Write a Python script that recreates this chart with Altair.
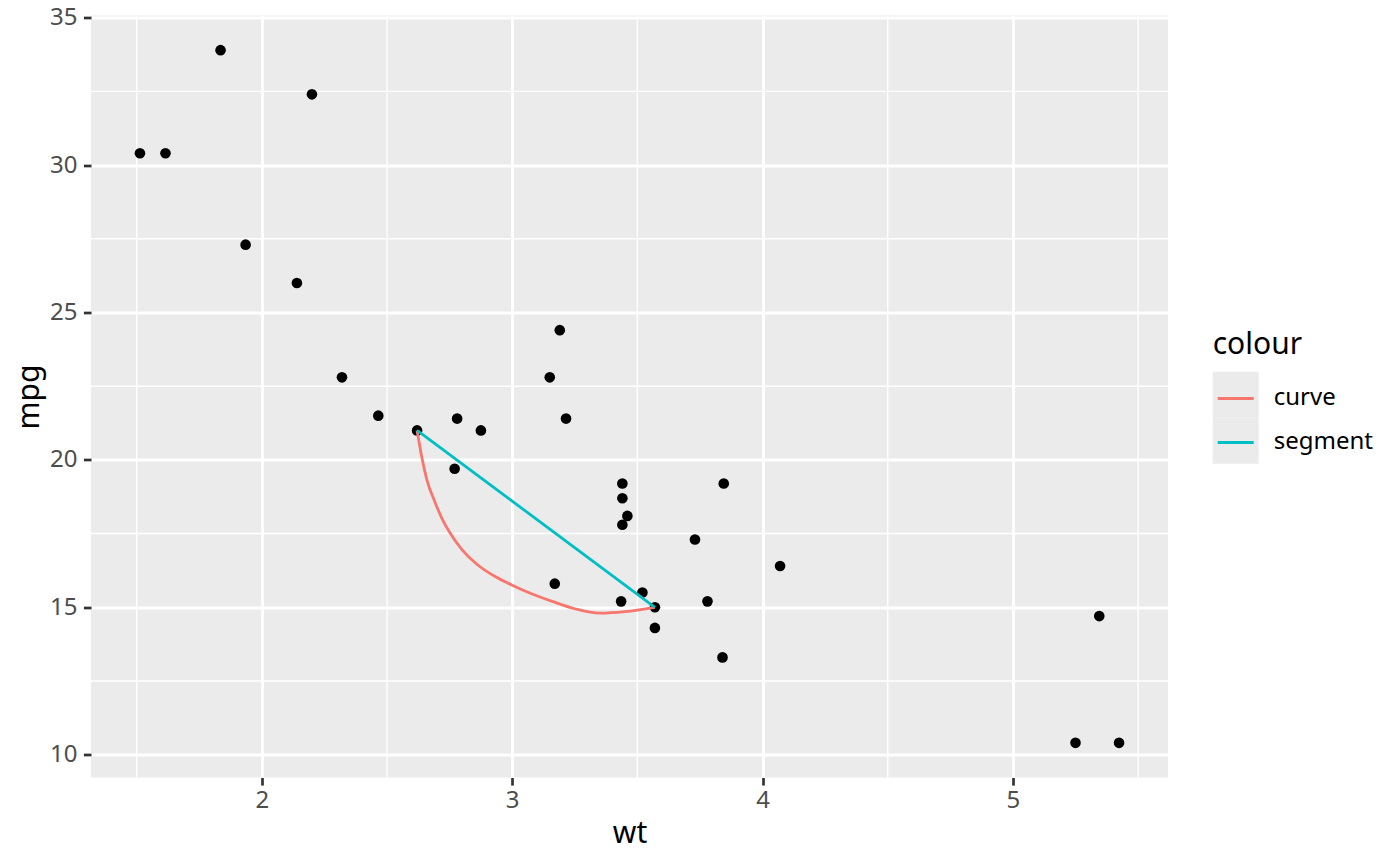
import altair as alt
import pandas as pd

# mtcars: weight (1000 lbs) and miles per gallon
wt = [2.620, 2.875, 2.320, 3.215, 3.440, 3.460, 3.570, 3.190, 3.150, 3.440, 3.440,
      4.070, 3.730, 3.780, 5.250, 5.424, 5.345, 2.200, 1.615, 1.835, 2.465, 3.520,
      3.435, 3.840, 3.845, 1.935, 2.140, 1.513, 3.170, 2.770, 3.570, 2.780]
mpg = [21.0, 21.0, 22.8, 21.4, 18.7, 18.1, 14.3, 24.4, 22.8, 19.2, 17.8,
       16.4, 17.3, 15.2, 10.4, 10.4, 14.7, 32.4, 30.4, 33.9, 21.5, 15.5,
       15.2, 13.3, 19.2, 27.3, 26.0, 30.4, 15.8, 19.7, 15.0, 21.4]

# curve and straight segment
curve_wt = [2.620, 2.628, 2.641, 2.660, 2.690, 2.720, 2.753, 2.800, 2.860, 2.930,
            3.000, 3.080, 3.160, 3.250, 3.350, 3.450, 3.570]
curve_mpg = [21.0, 20.6, 20.0, 19.3, 18.6, 18.0, 17.5, 16.95, 16.45, 16.05,
             15.75, 15.45, 15.2, 14.95, 14.80, 14.85, 15.0]
seg_wt = [2.620, 3.570]
seg_mpg = [21.0, 15.0]

series = ["curve", "segment"]
colours = ["#F8766D", "#00BFC4"]
key_bg = ["k1", "k2"]  # keys for the grey legend-key background

x_major = [2, 3, 4, 5]
x_minor = [1.5, 2.5, 3.5, 4.5, 5.5]
y_major = [10, 15, 20, 25, 30, 35]
y_minor = [12.5, 17.5, 22.5, 27.5, 32.5]

pts = pd.DataFrame({"wt": wt, "mpg": mpg})
lines = pd.DataFrame({
    "wt": curve_wt + seg_wt,
    "mpg": curve_mpg + seg_mpg,
    "colour": ["curve"] * len(curve_wt) + ["segment"] * len(seg_wt),
    "i": list(range(len(curve_wt))) + list(range(len(seg_wt))),
})
dummy = pd.DataFrame({"wt": [3.0, 3.0], "mpg": [20.0, 20.0], "k": key_bg})
xminor_df = pd.DataFrame({"v": x_minor})
yminor_df = pd.DataFrame({"v": y_minor})

FONT = "Noto Sans"
xscale = alt.Scale(domain=[1.3175, 5.6195], nice=False, zero=False)
yscale = alt.Scale(domain=[9.225, 35.075], nice=False, zero=False)

axis_common = dict(
    grid=True, gridColor="white", gridWidth=2.8, gridOpacity=1, domain=False,
    tickColor="#333333", tickWidth=2.7, tickSize=7.6,
    labelColor="#4D4D4D", labelFontSize=24, labelFont=FONT, format="d",
    titleColor="black", titleFontSize=30, titleFont=FONT, titleFontWeight="normal",
)

xaxis = alt.Axis(values=x_major, labelPadding=3, titlePadding=6, **axis_common)
yaxis = alt.Axis(values=y_major, labelPadding=6.5, titlePadding=5, **axis_common)

xminor_rules = alt.Chart(xminor_df).mark_rule(color="white", strokeWidth=1.4).encode(
    x=alt.X("v:Q", scale=xscale, axis=xaxis, title="wt")
)
yminor_rules = alt.Chart(yminor_df).mark_rule(color="white", strokeWidth=1.4).encode(
    y=alt.Y("v:Q", scale=yscale, axis=yaxis, title="mpg")
)

points = alt.Chart(pts).mark_circle(color="black", size=113, opacity=1).encode(
    x=alt.X("wt:Q", scale=xscale, axis=xaxis, title="wt"),
    y=alt.Y("mpg:Q", scale=yscale, axis=yaxis, title="mpg"),
)

bg_legend = alt.Chart(dummy).mark_point(shape="square", filled=True, size=0).encode(
    x=alt.X("wt:Q", scale=xscale),
    y=alt.Y("mpg:Q", scale=yscale),
    fill=alt.Fill("k:N", scale=alt.Scale(domain=key_bg, range=["#EBEBEB", "#EBEBEB"]),
                  legend=alt.Legend(orient="none", legendX=1121.7, legendY=356.2,
                                    padding=0, title=None, rowPadding=0,
                                    symbolType="square", symbolSize=2116,
                                    symbolStrokeWidth=0, symbolOpacity=1,
                                    labelExpr="''", labelFontSize=10, zindex=0)),
)

line_layer = alt.Chart(lines).mark_line(strokeWidth=2.8, interpolate="monotone").encode(
    x=alt.X("wt:Q", scale=xscale),
    y=alt.Y("mpg:Q", scale=yscale),
    order="i:Q",
    stroke=alt.Stroke("colour:N", scale=alt.Scale(domain=series, range=colours),
                      legend=alt.Legend(orient="none", legendX=1121.7, legendY=314.9,
                                        padding=0, title="colour", titleFont=FONT,
                                        titleFontSize=30, titleColor="black",
                                        titleFontWeight="normal", titlePadding=15,
                                        labelFont=FONT, labelFontSize=24,
                                        labelColor="black", labelOffset=15,
                                        rowPadding=9,
                                        symbolType="M-0.837,0H0.837", symbolSize=1849,
                                        symbolStrokeWidth=3, symbolOpacity=1, zindex=1)),
)

chart = alt.layer(xminor_rules, yminor_rules, points, bg_legend, line_layer).properties(
    width=1077, height=762,
    padding={"left": 83, "top": 7.5, "right": 224, "bottom": 80},
    autosize="none",
    background="white",
).configure_view(fill="#EBEBEB", stroke=None)

chart.save("out.html", embed_options={"renderer": "svg", "actions": False})
